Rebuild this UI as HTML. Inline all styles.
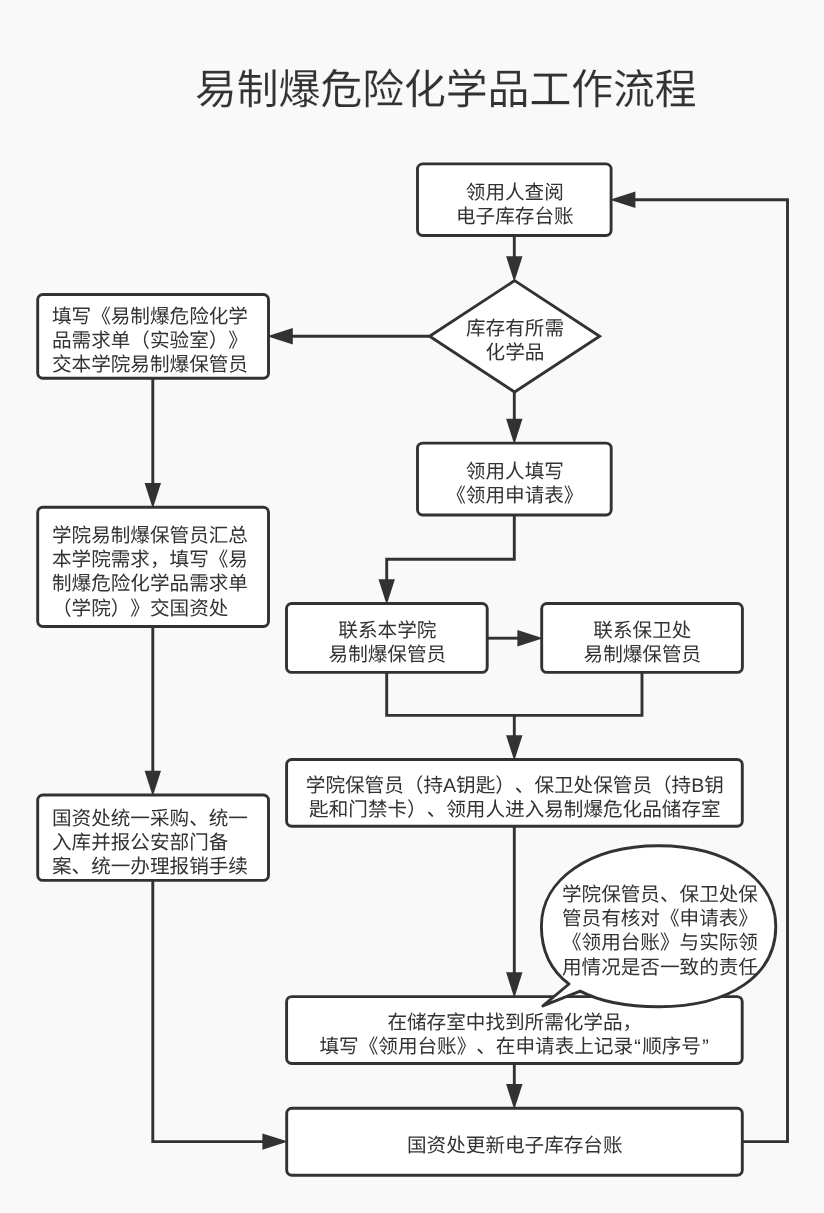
<!DOCTYPE html>
<html lang="zh-CN">
<head>
<meta charset="utf-8">
<title>易制爆危险化学品工作流程</title>
<style>
html,body{margin:0;padding:0;}
body{width:824px;height:1213px;background:#f9f9f9;position:relative;overflow:hidden;
  font-family:"Liberation Sans",sans-serif;color:#323232;}
svg{position:absolute;left:0;top:0;}
.t,h1{position:absolute;margin:0;white-space:nowrap;color:#323232;font-weight:normal;
  text-rendering:geometricPrecision;text-spacing-trim:space-all;font-kerning:none;will-change:transform;}
.t{font-size:19.6px;line-height:24.2px;-webkit-text-stroke:0;}
.c{text-align:center;}
.q{margin:0 1.3px;}
h1{font-size:41.8px;line-height:50px;left:195px;top:64.5px;-webkit-text-stroke:0.15px #f9f9f9;}
</style>
</head>
<body>
<svg width="824" height="1213" viewBox="0 0 824 1213">
  <g fill="none" stroke="#323232" stroke-width="2.9">
    <path d="M514.3 235.5V257.3"/>
    <path d="M514.3 392V419.8"/>
    <path d="M429.6 336.2H291.8"/>
    <path d="M152.8 378.3V484"/>
    <path d="M152.8 626.5V771.7"/>
    <path d="M152.8 880.4V1141.6H263.4"/>
    <path d="M514.3 515V559.3H386.7V580.2"/>
    <path d="M487.2 638.2H518.4"/>
    <path d="M386.7 672.4V715.4H642V672.4"/>
    <path d="M514.3 715.4V736.2"/>
    <path d="M514.3 826.3V973.3"/>
    <path d="M514.3 1063.5V1085"/>
    <path d="M742.3 1141.6H787.5V199.7H634.4"/>
  </g>
  <g fill="#323232">
    <path d="M506.1 256.3H522.5L514.3 281.9Z"/>
    <path d="M506.1 418.8H522.5L514.3 444.4Z"/>
    <path d="M292.8 328V344.4L267.2 336.2Z"/>
    <path d="M144.6 483H161L152.8 508.6Z"/>
    <path d="M144.6 770.7H161L152.8 796.3Z"/>
    <path d="M262.4 1133.4V1149.8L288 1141.6Z"/>
    <path d="M378.5 579.2H394.9L386.7 604.8Z"/>
    <path d="M517.4 630V646.4L543 638.2Z"/>
    <path d="M506.1 735.2H522.5L514.3 760.8Z"/>
    <path d="M506.1 972.3H522.5L514.3 997.9Z"/>
    <path d="M506.1 1084H522.5L514.3 1109.6Z"/>
    <path d="M635.4 191.5V207.9L609.8 199.7Z"/>
  </g>
  <g fill="#fff" stroke="#323232" stroke-width="2.9">
    <rect x="417.5" y="163.9" width="193.6" height="71.6" rx="5.2" ry="5.2"/>
    <path d="M514.6 280.6L599.6 336.3L514.6 392L429.6 336.3Z"/>
    <rect x="37.7" y="294.45" width="230.8" height="83.85" rx="5.2" ry="5.2"/>
    <rect x="37.7" y="507.3" width="230.8" height="119.2" rx="5.2" ry="5.2"/>
    <rect x="37.7" y="795" width="230.8" height="85.4" rx="5.2" ry="5.2"/>
    <rect x="417.5" y="443.1" width="193.7" height="71.9" rx="5.2" ry="5.2"/>
    <rect x="286.5" y="603.5" width="200.7" height="68.9" rx="5.2" ry="5.2"/>
    <rect x="541.7" y="603.5" width="200.7" height="68.9" rx="5.2" ry="5.2"/>
    <rect x="286.6" y="759.5" width="455.7" height="66.8" rx="5.2" ry="5.2"/>
    <rect x="286.6" y="996.6" width="455.6" height="66.9" rx="5.2" ry="5.2"/>
    <rect x="286.7" y="1108.3" width="455.6" height="67" rx="5.2" ry="5.2"/>
    <path stroke-linejoin="round" d="M568.97 984.01C550.87 970.44 541.4 951 541.4 926.25C541.4 879.19 590.04 845.8 658.6 845.8C727.16 845.8 775.8 879.19 775.8 926.25C775.8 975.32 730.09 1006.7 658.6 1006.7C625.91 1006.7 599.57 1001.36 580.21 991.1L542.9 1005.9Z"/>
  </g>
</svg>

<h1>易制爆危险化学品工作流程</h1>

<div class="t c" style="left:417.5px;width:193.6px;top:181px;">领用人查阅<br>电子库存台账</div>
<div class="t c" style="left:429.6px;width:170px;top:317.4px;">库存有所需<br>化学品</div>
<div class="t" style="left:52px;top:305px;">填写《易制爆危险化学<br>品需求单（实验室）》<br>交本学院易制爆保管员</div>
<div class="t" style="left:52px;top:524px;">学院易制爆保管员汇总<br>本学院需求，填写《易<br>制爆危险化学品需求单<br>（学院）》交国资处</div>
<div class="t" style="left:52px;top:807.3px;">国资处统一采购、统一<br>入库并报公安部门备<br>案、统一办理报销手续</div>
<div class="t c" style="left:417.5px;width:193.7px;top:460px;">领用人填写<br>《领用申请表》</div>
<div class="t c" style="left:286.5px;width:200.7px;top:619px;">联系本学院<br>易制爆保管员</div>
<div class="t c" style="left:541.7px;width:200.7px;top:619px;">联系保卫处<br>易制爆保管员</div>
<div class="t c" style="left:286.6px;width:455.7px;top:774px;">学院保管员（持A钥匙）、保卫处保管员（持B钥<br>匙和门禁卡）、领用人进入易制爆危化品储存室</div>
<div class="t" style="left:562px;top:882.5px;">学院保管员、保卫处保<br>管员有核对《申请表》<br>《领用台账》与实际领<br>用情况是否一致的责任</div>
<div class="t c" style="left:286.6px;width:455.6px;top:1011px;">在储存室中找到所需化学品，<br>填写《领用台账》、在申请表上记录<span class="q">“</span>顺序号<span class="q">”</span></div>
<div class="t c" style="left:286.7px;width:455.6px;top:1133.6px;">国资处更新电子库存台账</div>
</body>
</html>
